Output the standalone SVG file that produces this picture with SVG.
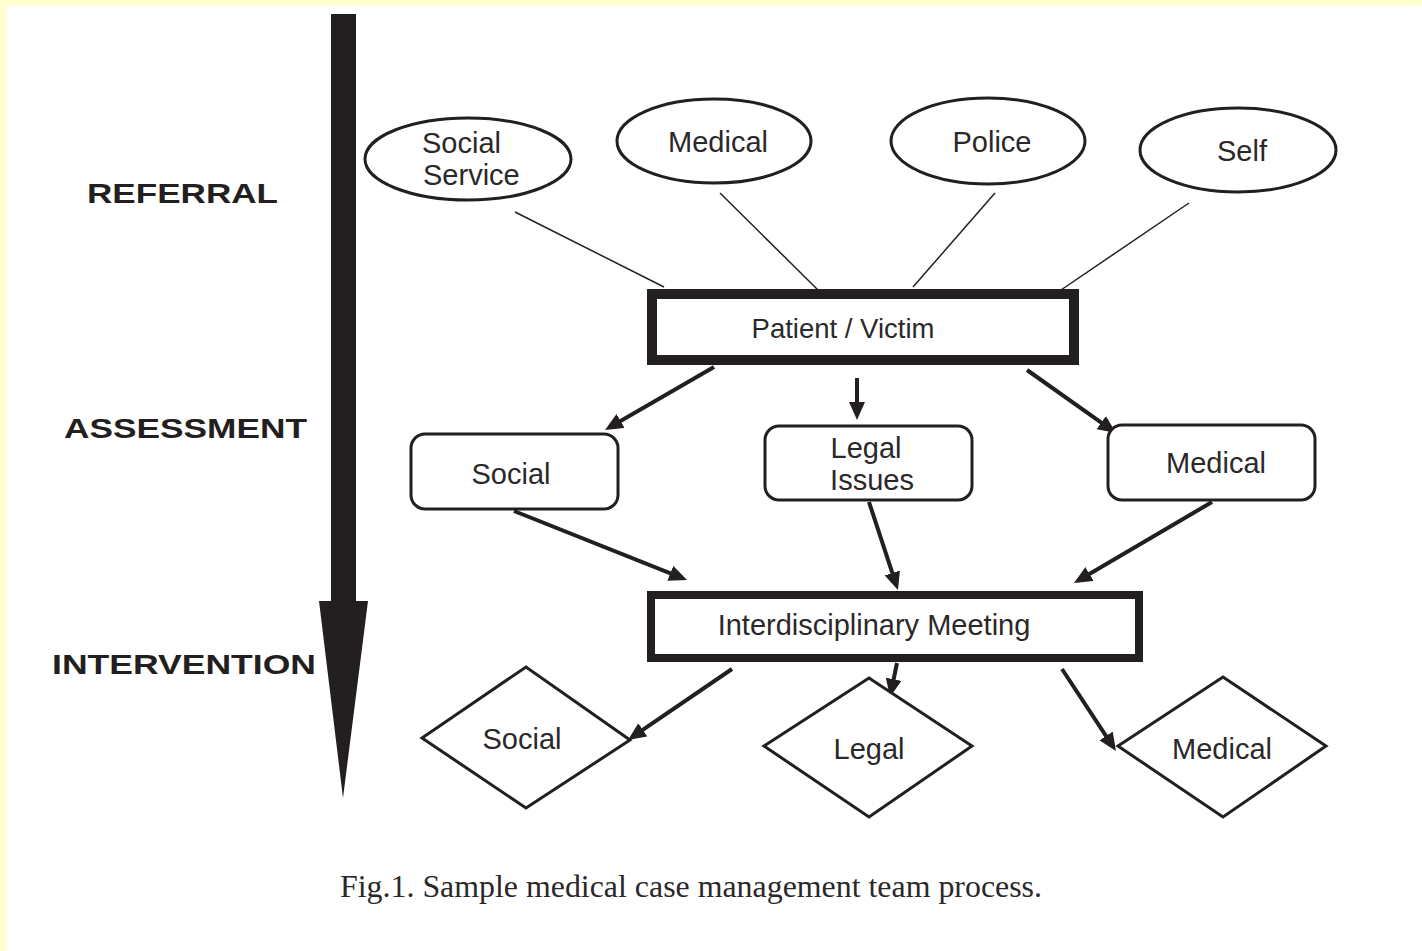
<svg xmlns="http://www.w3.org/2000/svg" width="1422" height="951" viewBox="0 0 1422 951">
<style>
.t{font-family:"Liberation Sans",Arial,sans-serif;font-size:29px;fill:#2b2829}
.lbl{font-family:"Liberation Sans",Arial,sans-serif;font-size:28px;font-weight:bold;fill:#231f20}
.cap{font-family:"Liberation Serif","Times New Roman",serif;font-size:31px;fill:#2b2829}
.ell{fill:#fff;stroke:#231f20;stroke-width:3}
.rbox{fill:#fff;stroke:#231f20;stroke-width:3}
.dia{fill:#fff;stroke:#231f20;stroke-width:3}
.thin{stroke:#231f20;stroke-width:1.5;fill:none}
.arr{stroke:#231f20;stroke-width:4;fill:none;marker-end:url(#ah)}
</style>
<defs>
<marker id="ah" markerUnits="userSpaceOnUse" markerWidth="18" markerHeight="16" refX="13" refY="8" orient="auto">
<path d="M0,0 L18,8 L0,16 Z" fill="#231f20"/>
</marker>
</defs>
<rect x="0" y="0" width="1422" height="951" fill="#ffffd0"/>
<rect x="7" y="6" width="1415" height="945" fill="#ffffff"/>

<g id="timeline">
<polygon points="331,14 356,14 356,601 368,601 343,798 319,601 331,601" fill="#231f20"/>
<text class="lbl" x="87" y="203" textLength="191" lengthAdjust="spacingAndGlyphs">REFERRAL</text>
<text class="lbl" x="64" y="438" textLength="243" lengthAdjust="spacingAndGlyphs">ASSESSMENT</text>
<text class="lbl" x="52" y="674" textLength="264" lengthAdjust="spacingAndGlyphs">INTERVENTION</text>
</g>

<g id="connectors">
<line class="thin" x1="515" y1="212" x2="664" y2="287"/>
<line class="thin" x1="720" y1="193" x2="818" y2="290"/>
<line class="thin" x1="995" y1="193" x2="913" y2="287"/>
<line class="thin" x1="1189" y1="203" x2="1058" y2="292"/>
<line class="arr" x1="714" y1="367" x2="609.3" y2="427.5"/>
<line class="arr" x1="857" y1="378" x2="857" y2="415"/>
<line class="arr" x1="1027" y1="370" x2="1111.9" y2="430.1"/>
<line class="arr" x1="514" y1="511" x2="682.4" y2="578.1"/>
<line class="arr" x1="869" y1="502" x2="896.4" y2="585.3"/>
<line class="arr" x1="1212" y1="502" x2="1078.3" y2="580.5"/>
<line class="arr" x1="732" y1="669" x2="632.1" y2="737.2"/>
<line class="arr" x1="897" y1="663" x2="891" y2="692"/>
<line class="arr" x1="1062" y1="669" x2="1113.2" y2="746.8"/>
</g>

<g id="ref-social-service">
<ellipse class="ell" cx="468" cy="159" rx="103" ry="41"/>
<text class="t" x="422" y="153">Social</text>
<text class="t" x="423" y="185">Service</text>
</g>
<g id="ref-medical">
<ellipse class="ell" cx="714" cy="141" rx="97" ry="42"/>
<text class="t" x="718" y="152" text-anchor="middle">Medical</text>
</g>
<g id="ref-police">
<ellipse class="ell" cx="988" cy="141" rx="97" ry="43"/>
<text class="t" x="992" y="152" text-anchor="middle">Police</text>
</g>
<g id="ref-self">
<ellipse class="ell" cx="1238" cy="150" rx="98" ry="42"/>
<text class="t" x="1242" y="161" text-anchor="middle">Self</text>
</g>

<g id="patient-victim">
<rect x="652" y="294" width="422" height="66" fill="#fff" stroke="#231f20" stroke-width="10"/>
<text class="t" x="843" y="338" text-anchor="middle" style="font-size:27.5px">Patient / Victim</text>
</g>

<g id="assess-social">
<rect class="rbox" x="411" y="434" width="207" height="75" rx="14"/>
<text class="t" x="511" y="484" text-anchor="middle">Social</text>
</g>
<g id="assess-legal">
<rect class="rbox" x="765" y="426" width="207" height="74" rx="14"/>
<text class="t" x="866" y="458" text-anchor="middle">Legal</text>
<text class="t" x="872" y="490" text-anchor="middle">Issues</text>
</g>
<g id="assess-medical">
<rect class="rbox" x="1108" y="425" width="207" height="75" rx="14"/>
<text class="t" x="1216" y="473" text-anchor="middle">Medical</text>
</g>

<g id="meeting">
<rect x="651" y="595" width="488" height="63" fill="#fff" stroke="#231f20" stroke-width="8"/>
<text class="t" x="874" y="635" text-anchor="middle">Interdisciplinary Meeting</text>
</g>

<g id="int-social">
<polygon class="dia" points="422,738 526,667 630,740 526,808"/>
<text class="t" x="522" y="749" text-anchor="middle">Social</text>
</g>
<g id="int-legal">
<polygon class="dia" points="764,746 869,678 972,746 869,817"/>
<text class="t" x="869" y="759" text-anchor="middle">Legal</text>
</g>
<g id="int-medical">
<polygon class="dia" points="1118,746 1223,677 1326,746 1223,817"/>
<text class="t" x="1222" y="759" text-anchor="middle">Medical</text>
</g>

<text class="cap" x="340" y="897" textLength="702" lengthAdjust="spacingAndGlyphs">Fig.1. Sample medical case management team process.</text>
</svg>
